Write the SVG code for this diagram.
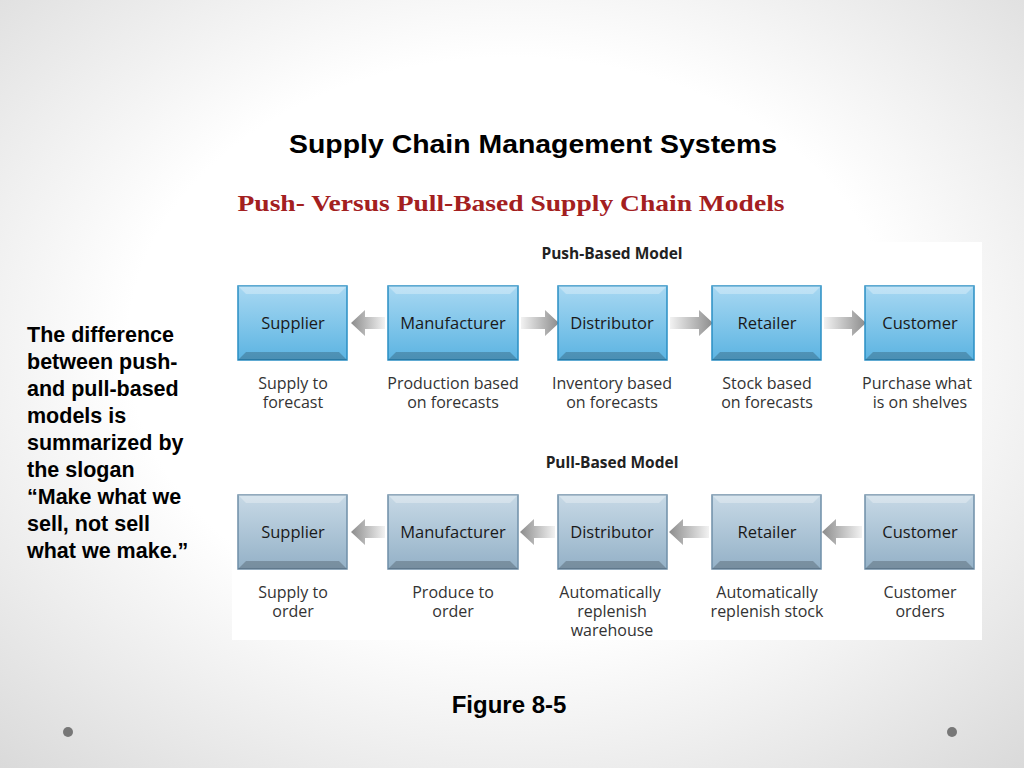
<svg xmlns="http://www.w3.org/2000/svg" width="1024" height="768" viewBox="0 0 1024 768">
<defs>
<radialGradient id="bg" cx="50%" cy="45%" r="75%"><stop offset="0.5" stop-color="#ffffff"/><stop offset="1" stop-color="#d9d9d9"/></radialGradient>
<linearGradient id="pushF" x1="0" y1="0" x2="0" y2="1"><stop offset="0" stop-color="#a8d8f2"/><stop offset="1" stop-color="#5cb4e2"/></linearGradient>
<linearGradient id="pullF" x1="0" y1="0" x2="0" y2="1"><stop offset="0" stop-color="#c7d9e6"/><stop offset="1" stop-color="#94b1c7"/></linearGradient>
<linearGradient id="arR" x1="0" y1="0" x2="1" y2="0"><stop offset="0" stop-color="#f2f2f2"/><stop offset="1" stop-color="#8c8c8c"/></linearGradient>
<linearGradient id="arL" x1="1" y1="0" x2="0" y2="0"><stop offset="0" stop-color="#f2f2f2"/><stop offset="1" stop-color="#8c8c8c"/></linearGradient>
</defs>
<style>
.t{font-family:"Liberation Sans",Arial,sans-serif;font-weight:bold;fill:#000}
.bl{font-family:"Open Sans","DejaVu Sans",sans-serif;fill:#1a1a1a;font-size:16.5px;text-anchor:middle}
.cap{font-family:"Open Sans","DejaVu Sans",sans-serif;fill:#333;font-size:16px;text-anchor:middle}
.hd{font-family:"Open Sans","DejaVu Sans",sans-serif;font-weight:bold;fill:#222;font-size:15.5px;text-anchor:middle}
.push{fill:url(#pushF);stroke:#2a8fc4;stroke-width:1.5}
.pull{fill:url(#pullF);stroke:#6f8fa8;stroke-width:1.5}
.bev{fill:#fff;opacity:0.3}
.sh{fill:#000;opacity:0.2}
</style>
<rect width="1024" height="768" fill="url(#bg)"/>
<rect x="232" y="242" width="750" height="398" fill="#fff"/>
<text class="t" x="533" y="153" font-size="26" text-anchor="middle" textLength="488" lengthAdjust="spacingAndGlyphs">Supply Chain Management Systems</text>
<text x="511" y="211" font-family="'Liberation Serif',serif" font-weight="bold" font-size="24" fill="#a3201f" text-anchor="middle" textLength="547" lengthAdjust="spacingAndGlyphs">Push- Versus Pull-Based Supply Chain Models</text>
<text class="t" font-size="21.5"><tspan x="27" y="342">The difference</tspan><tspan x="27" y="369">between push-</tspan><tspan x="27" y="396">and pull-based</tspan><tspan x="27" y="423">models is</tspan><tspan x="27" y="450">summarized by</tspan><tspan x="27" y="477">the slogan</tspan><tspan x="27" y="504">“Make what we</tspan><tspan x="27" y="531">sell, not sell</tspan><tspan x="27" y="558">what we make.”</tspan></text>
<text class="t" x="509" y="713" font-size="24" text-anchor="middle">Figure 8-5</text>
<circle cx="68" cy="732" r="5" fill="#777"/><circle cx="952" cy="732" r="5" fill="#777"/>
<text class="hd" x="612" y="259">Push-Based Model</text>
<text class="hd" x="612" y="468">Pull-Based Model</text>
<g id="connectors">
<path d="M385 317h-20v-7l-14 13 14 13v-7h20z" fill="url(#arL)"/>
<path d="M521 317h24v-7l14 13-14 13v-7h-24z" fill="url(#arR)"/>
<path d="M670 317h29v-7l14 13-14 13v-7h-29z" fill="url(#arR)"/>
<path d="M824 317h28v-7l14 13-14 13v-7h-28z" fill="url(#arR)"/>
<path d="M385 526h-20v-7l-14 13 14 13v-7h20z" fill="url(#arL)"/>
<path d="M555 526h-21v-7l-14 13 14 13v-7h21z" fill="url(#arL)"/>
<path d="M709 526h-26v-7l-14 13 14 13v-7h26z" fill="url(#arL)"/>
<path d="M862 526h-26v-7l-14 13 14 13v-7h26z" fill="url(#arL)"/>
</g>
<g id="push-supplier"><rect class="push" x="238" y="286" width="109" height="74"/><path class="bev" d="M238 286h109l-8 8h-93z"/><path class="sh" d="M238 360h109l-8-8h-93z"/><text class="bl" x="293" y="329">Supplier</text><text class="cap" x="293" y="389">Supply to</text><text class="cap" x="293" y="408">forecast</text></g>
<g id="push-manufacturer"><rect class="push" x="388" y="286" width="130" height="74"/><path class="bev" d="M388 286h130l-8 8h-114z"/><path class="sh" d="M388 360h130l-8-8h-114z"/><text class="bl" x="453" y="329">Manufacturer</text><text class="cap" x="453" y="389">Production based</text><text class="cap" x="453" y="408">on forecasts</text></g>
<g id="push-distributor"><rect class="push" x="558" y="286" width="109" height="74"/><path class="bev" d="M558 286h109l-8 8h-93z"/><path class="sh" d="M558 360h109l-8-8h-93z"/><text class="bl" x="612" y="329">Distributor</text><text class="cap" x="612" y="389">Inventory based</text><text class="cap" x="612" y="408">on forecasts</text></g>
<g id="push-retailer"><rect class="push" x="712" y="286" width="109" height="74"/><path class="bev" d="M712 286h109l-8 8h-93z"/><path class="sh" d="M712 360h109l-8-8h-93z"/><text class="bl" x="767" y="329">Retailer</text><text class="cap" x="767" y="389">Stock based</text><text class="cap" x="767" y="408">on forecasts</text></g>
<g id="push-customer"><rect class="push" x="865" y="286" width="109" height="74"/><path class="bev" d="M865 286h109l-8 8h-93z"/><path class="sh" d="M865 360h109l-8-8h-93z"/><text class="bl" x="920" y="329">Customer</text><text class="cap" x="917" y="389">Purchase what</text><text class="cap" x="920" y="408">is on shelves</text></g>
<g id="pull-supplier"><rect class="pull" x="238" y="495" width="109" height="74"/><path class="bev" d="M238 495h109l-8 8h-93z"/><path class="sh" d="M238 569h109l-8-8h-93z"/><text class="bl" x="293" y="538">Supplier</text><text class="cap" x="293" y="598">Supply to</text><text class="cap" x="293" y="617">order</text></g>
<g id="pull-manufacturer"><rect class="pull" x="388" y="495" width="130" height="74"/><path class="bev" d="M388 495h130l-8 8h-114z"/><path class="sh" d="M388 569h130l-8-8h-114z"/><text class="bl" x="453" y="538">Manufacturer</text><text class="cap" x="453" y="598">Produce to</text><text class="cap" x="453" y="617">order</text></g>
<g id="pull-distributor"><rect class="pull" x="558" y="495" width="109" height="74"/><path class="bev" d="M558 495h109l-8 8h-93z"/><path class="sh" d="M558 569h109l-8-8h-93z"/><text class="bl" x="612" y="538">Distributor</text><text class="cap" x="610" y="598">Automatically</text><text class="cap" x="612" y="617">replenish</text><text class="cap" x="612" y="636">warehouse</text></g>
<g id="pull-retailer"><rect class="pull" x="712" y="495" width="109" height="74"/><path class="bev" d="M712 495h109l-8 8h-93z"/><path class="sh" d="M712 569h109l-8-8h-93z"/><text class="bl" x="767" y="538">Retailer</text><text class="cap" x="767" y="598">Automatically</text><text class="cap" x="767" y="617">replenish stock</text></g>
<g id="pull-customer"><rect class="pull" x="865" y="495" width="109" height="74"/><path class="bev" d="M865 495h109l-8 8h-93z"/><path class="sh" d="M865 569h109l-8-8h-93z"/><text class="bl" x="920" y="538">Customer</text><text class="cap" x="920" y="598">Customer</text><text class="cap" x="920" y="617">orders</text></g>
</svg>
